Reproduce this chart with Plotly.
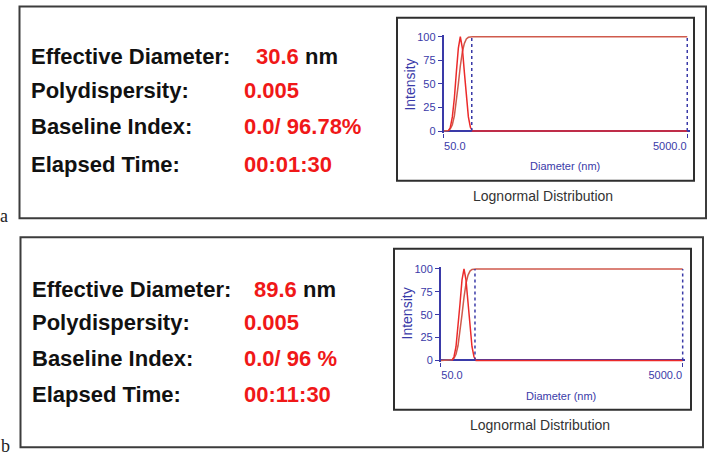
import math
import plotly.graph_objects as go

W, H = 710, 459

# ---------------- data ----------------
labels = ["Effective Diameter:", "Polydispersity:", "Baseline Index:", "Elapsed Time:"]
values_a = ["30.6", "0.005", "0.0/ 96.78%", "00:01:30"]
values_b = ["89.6", "0.005", "0.0/ 96 %", "00:11:30"]
unit = "nm"
panel_tags = ["a", "b"]

x_ticks = [50, 5000]
x_ticktext = ["50.0", "5000.0"]
y_ticks = [0, 25, 50, 75, 100]

# Panel a: distribution (intensity vs diameter, nm)
dist_a_d = [54.8, 56.9, 59.1, 61.4, 63.7, 66.2, 68.7, 71.4, 74.2, 77.0, 80.0, 83.1, 86.3, 5000]
dist_a_i = [0, 4, 15, 35, 62, 88, 100, 88, 62, 35, 15, 4, 0, 0]
# Panel a: cumulative curve
cum_a_d = [50, 52.7, 54.8, 56.9, 59.1, 61.4, 63.7, 66.2, 68.7, 71.4, 74.2, 77.0, 80.0, 83.1, 86.3, 5000]
cum_a_i = [0, 0, 0.6, 2.3, 6.7, 16, 31, 50, 69, 84, 93, 97.7, 99.4, 100, 100, 100]
marker_a = 85.3

# Panel b: distribution
dist_b_d = [62.0, 64.4, 66.9, 69.5, 72.2, 75.0, 77.9, 80.9, 84.0, 87.3, 90.7, 94.2, 97.9, 5000]
dist_b_i = [0, 4, 15, 35, 62, 88, 100, 88, 62, 35, 15, 4, 0, 0]
# Panel b: cumulative
cum_b_d = [50, 59.7, 62.0, 64.4, 66.9, 69.5, 72.2, 75.0, 77.9, 80.9, 84.0, 87.3, 90.7, 94.2, 97.9, 5000]
cum_b_i = [0, 0, 0.6, 2.3, 6.7, 16, 31, 50, 69, 84, 93, 97.7, 99.4, 100, 100, 100]
marker_b = 96.0

# ---------------- styling ----------------
FONT = "Liberation Sans, Arial, sans-serif"
RED = "#f01818"
BLUE = "#3a3aa8"
DIST_COL = "#ec2a2a"
CUM_COL = "#cf5a4c"

def px(x):
    return x / W

def py(y):
    return 1 - y / H

fig = go.Figure()

def add_panel(idx, dd, di, cd, ci, mk):
    xa = "x" if idx == 1 else "x%d" % idx
    ya = "y" if idx == 1 else "y%d" % idx
    fig.add_trace(go.Scatter(x=cd, y=ci, mode="lines", xaxis=xa, yaxis=ya,
                             line=dict(color=CUM_COL, width=1.5), hoverinfo="skip"))
    fig.add_trace(go.Scatter(x=dd, y=di, mode="lines", xaxis=xa, yaxis=ya,
                             line=dict(color=DIST_COL, width=1.5), hoverinfo="skip"))
    for xv in [mk, x_ticks[1]]:
        fig.add_trace(go.Scatter(x=[xv, xv], y=[0, 100], mode="lines", xaxis=xa, yaxis=ya,
                                 line=dict(color=BLUE, width=1.5, dash="dot"), hoverinfo="skip"))

add_panel(1, dist_a_d, dist_a_i, cum_a_d, cum_a_i, marker_a)
add_panel(2, dist_b_d, dist_b_i, cum_b_d, cum_b_i, marker_b)

xr = [math.log10(x_ticks[0]), math.log10(x_ticks[1]) + 0.02]
tickfont = dict(family=FONT, size=11, color=BLUE)

def xaxis_cfg(dom, anchor, tv, tt, pos, overlay=None):
    d = dict(type="log", range=xr, domain=dom, anchor=anchor,
             tickvals=tv, ticktext=tt, ticks="outside", ticklen=4, tickcolor=BLUE,
             tickwidth=1.2, tickfont=tickfont, showgrid=False, zeroline=False,
             showline=False, ticklabelposition=pos, ticklabelstandoff=3, fixedrange=True)
    if overlay:
        d["overlaying"] = overlay
    return d

def yaxis_cfg(dom, anchor):
    return dict(range=[-2, 102], domain=dom, anchor=anchor, tickvals=y_ticks,
                ticks="outside", ticklen=4, tickcolor=BLUE, tickwidth=1.2,
                tickfont=tickfont, showgrid=False, showline=True, linecolor=BLUE,
                linewidth=1.5, zeroline=True, zerolinecolor=BLUE, zerolinewidth=1.5,
                fixedrange=True)

xa_dom = [px(443.5), px(689.7)]
ya_dom = [py(131.2), py(31.4)]
xb_dom = [px(440.7), px(685.1)]
yb_dom = [py(364.6), py(267.8)]

fig.update_layout(
    xaxis=xaxis_cfg(xa_dom, "y", [x_ticks[0]], [x_ticktext[0]], "outside right"),
    yaxis=yaxis_cfg(ya_dom, "x"),
    xaxis2=xaxis_cfg(xb_dom, "y2", [x_ticks[0]], [x_ticktext[0]], "outside right"),
    yaxis2=yaxis_cfg(yb_dom, "x2"),
    xaxis3=xaxis_cfg(xa_dom, "y", [x_ticks[1]], [x_ticktext[1]], "outside left", overlay="x"),
    xaxis4=xaxis_cfg(xb_dom, "y2", [x_ticks[1]], [x_ticktext[1]], "outside left", overlay="x2"),
)
# invisible traces so the overlay axes render
fig.add_trace(go.Scatter(x=[x_ticks[1]], y=[0], xaxis="x3", yaxis="y", mode="markers",
                         marker=dict(opacity=0), hoverinfo="skip"))
fig.add_trace(go.Scatter(x=[x_ticks[1]], y=[0], xaxis="x4", yaxis="y2", mode="markers",
                         marker=dict(opacity=0), hoverinfo="skip"))

shapes = []
def box(x0, y0, x1, y1, color, width):
    shapes.append(dict(type="rect", xref="paper", yref="paper",
                       x0=px(x0), x1=px(x1), y0=py(y1), y1=py(y0),
                       line=dict(color=color, width=width), fillcolor="rgba(0,0,0,0)"))

box(19.5, 2.5, 706, 218, "#3c3c3c", 2)
box(20.5, 237.5, 703, 451, "#3c3c3c", 2)
box(397, 14, 694, 180, "#2e2e2e", 2)
box(394, 249, 691, 413, "#2e2e2e", 2)

ann = []
def text(x, y, s, size, color, bold=False, xanchor="left", angle=0, family=FONT):
    ann.append(dict(xref="paper", yref="paper", x=px(x), y=py(y), text=("<b>%s</b>" % s) if bold else s,
                    showarrow=False, xanchor=xanchor, yanchor="middle", textangle=angle,
                    font=dict(family=family, size=size, color=color)))

def panel_text(rows_y, lx, vx_first, vx, vals):
    for i, (lab, val) in enumerate(zip(labels, vals)):
        text(lx, rows_y[i], lab, 22, "#111111", bold=True)
        if i == 0:
            ann.append(dict(xref="paper", yref="paper", x=px(vx_first), y=py(rows_y[i]),
                            text="<b><span style='color:%s'>%s</span> %s</b>" % (RED, val, unit),
                            showarrow=False, xanchor="left", yanchor="middle",
                            font=dict(family=FONT, size=22, color="#111111")))
        else:
            text(vx, rows_y[i], val, 22, RED, bold=True)

panel_text([53, 88, 124.5, 163.5], 28.5, 254, 241.5, values_a)
panel_text([290.5, 324.5, 360.5, 397], 30, 251.5, 242, values_b)

# inset titles
text(410, 82, "Intensity", 14, BLUE, xanchor="center", angle=-90)
text(565, 165, "Diameter (nm)", 11, BLUE, xanchor="center")
text(543, 195, "Lognormal Distribution", 14, "#333333", xanchor="center")
text(407, 315, "Intensity", 14, BLUE, xanchor="center", angle=-90)
text(561, 399, "Diameter (nm)", 11, BLUE, xanchor="center")
text(540, 428, "Lognormal Distribution", 14, "#333333", xanchor="center")

# panel tags
text(4, 216, panel_tags[0], 18, "#222222", xanchor="center", family="Liberation Serif, Times New Roman, serif")
text(6, 450, panel_tags[1], 18, "#222222", xanchor="center", family="Liberation Serif, Times New Roman, serif")

fig.update_layout(
    width=W, height=H, margin=dict(l=0, r=0, t=0, b=0),
    paper_bgcolor="white", plot_bgcolor="white",
    showlegend=False, shapes=shapes, annotations=ann,
)

fig.write_html("out.html", config=dict(displayModeBar=False))
